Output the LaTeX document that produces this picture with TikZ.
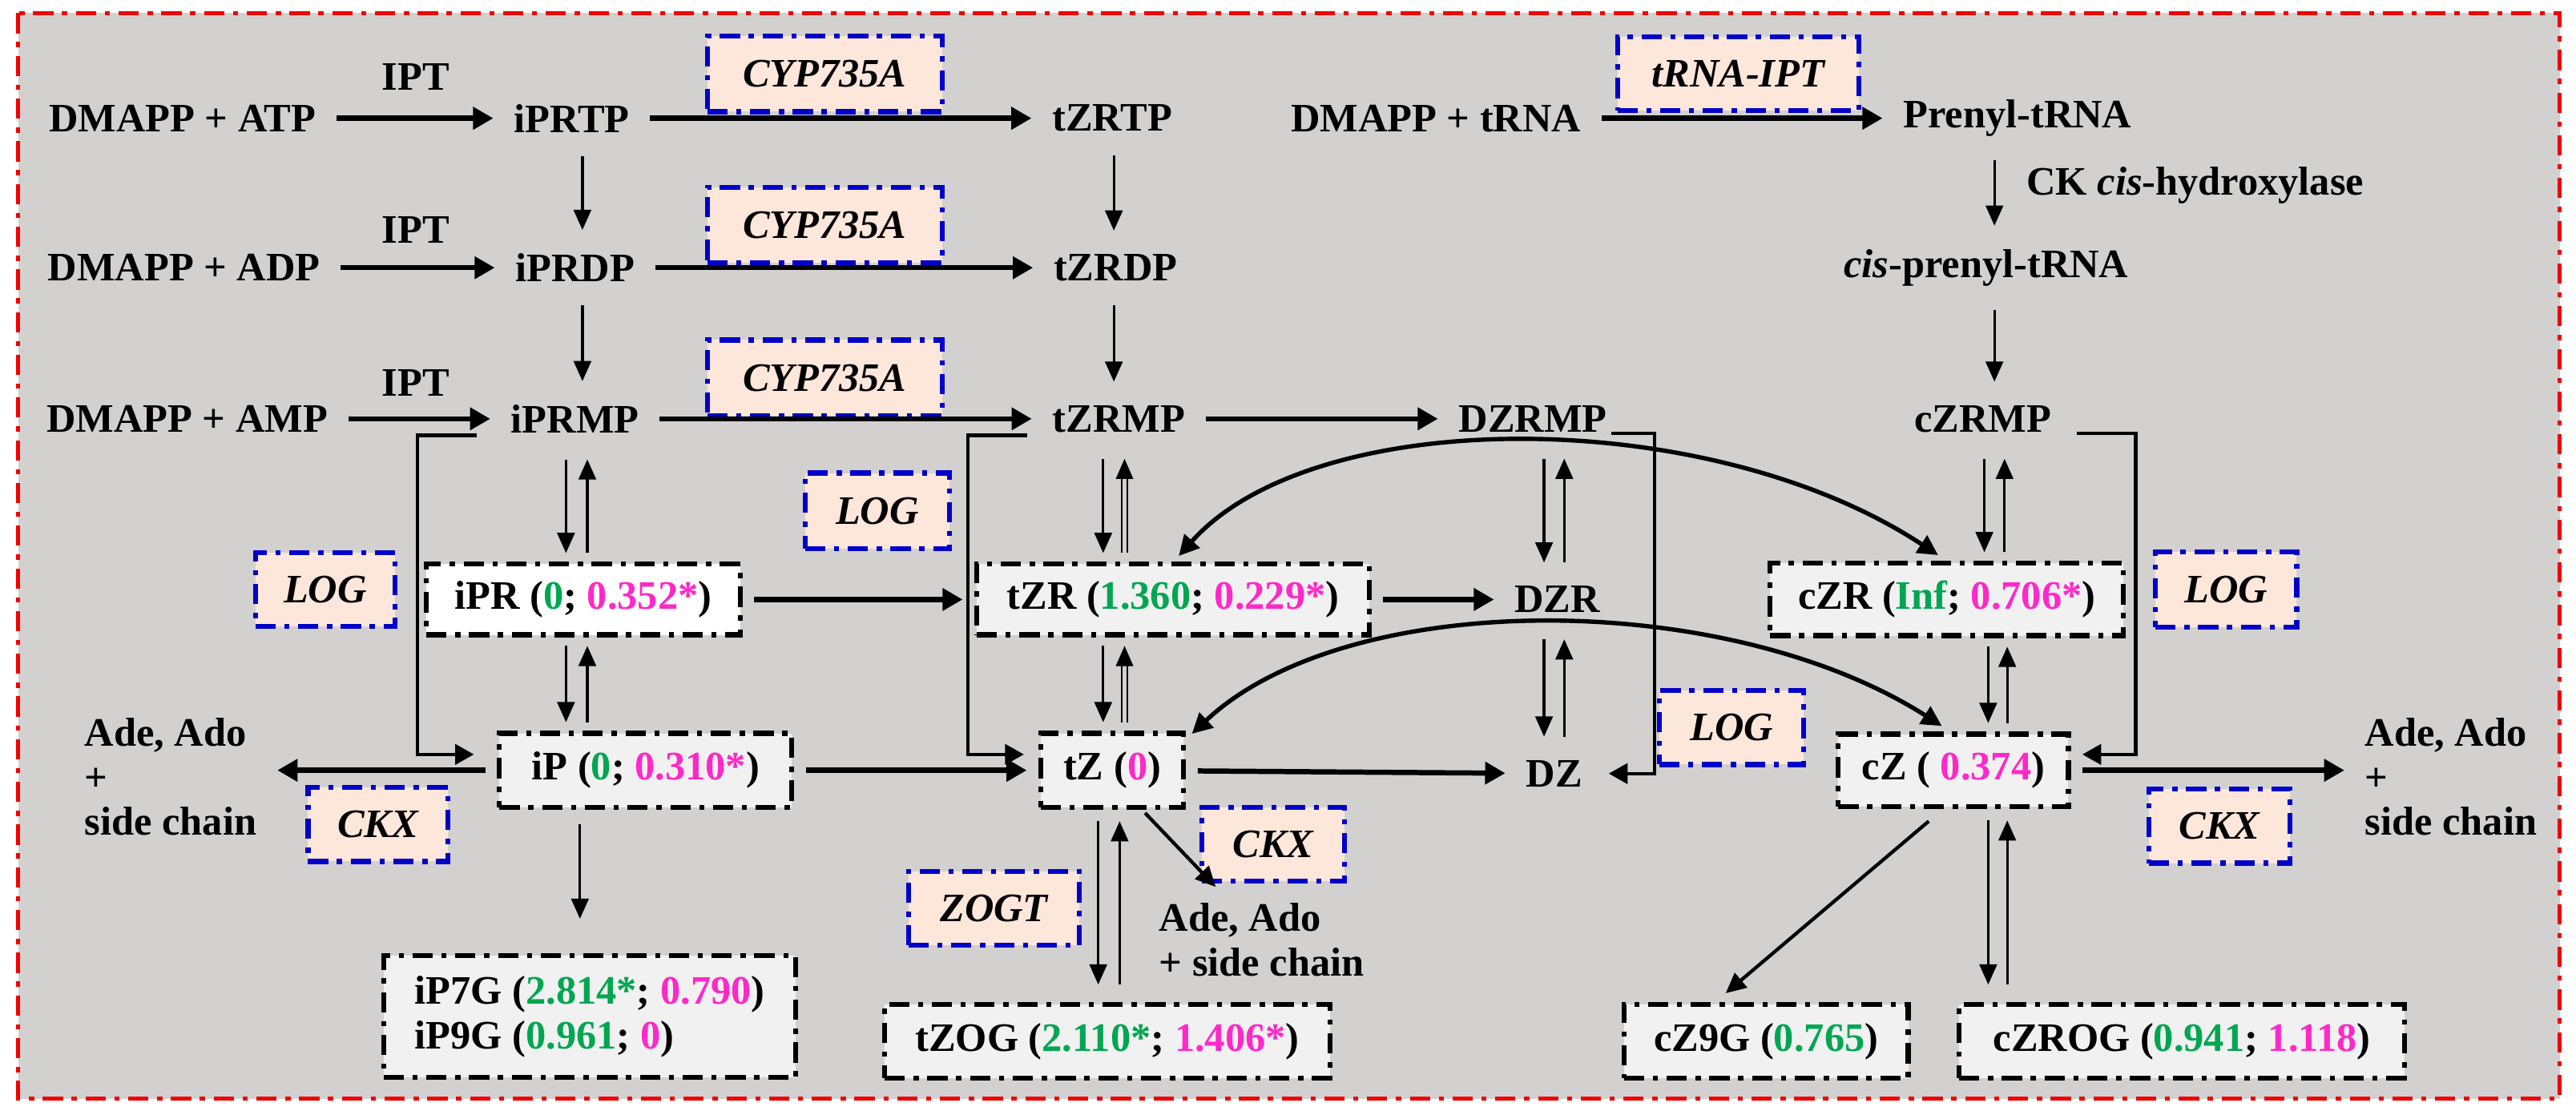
\documentclass[tikz,border=0pt]{standalone}
\usepackage{fontspec}
\setmainfont{Liberation Serif}
\newfontfamily\tnr{Liberation Serif}
\usetikzlibrary{arrows.meta,calc}
\definecolor{bg}{RGB}{211,208,208}
\definecolor{enzfill}{RGB}{253,231,218}
\definecolor{enzblue}{RGB}{0,0,200}
\definecolor{boxfill}{RGB}{241,241,241}
\definecolor{gr}{RGB}{0,166,81}
\definecolor{mg}{RGB}{255,40,200}
\definecolor{fr}{RGB}{240,0,0}
\newcommand\gv[1]{\textcolor{gr}{#1}}
\newcommand\mv[1]{\textcolor{mg}{#1}}
\begin{document}
\begin{tikzpicture}[x=0.02cm,y=-0.02cm,
  every node/.style={font=\tnr\fontsize{14}{15.5}\selectfont\bfseries},
  txt/.style={inner sep=3pt},
  enz/.style={draw=enzblue,fill=enzfill,line width=1.7pt,
     dash pattern=on 7pt off 3pt on 1.8pt off 3pt,
     font=\tnr\fontsize{14}{15.5}\selectfont\bfseries\itshape,inner sep=0pt},
  cbox/.style={draw=black,fill=boxfill,line width=1.7pt,
     dash pattern=on 7pt off 3pt on 1.8pt off 3pt,inner sep=0pt},
  thick arrow/.style={line width=1.8pt,-{Triangle[length=7pt,width=7.5pt]},shorten <=4pt,shorten >=4pt},
  thin arrow/.style={line width=0.9pt,-{Triangle[length=7pt,width=6pt]}},
  mid arrow/.style={line width=1.2pt,-{Triangle[length=7pt,width=6.5pt]}},
  dbl arrow/.style={double=bg,double distance=1.4pt,line width=0.5pt,-{Triangle[length=7pt,width=6pt]}},
  hook/.style={line width=1.2pt,-{Triangle[length=6.5pt,width=7pt]}},
]
\useasboundingbox (0,0) rectangle (1568,681);
\draw[fr,fill=bg,line width=1.4pt,dash pattern=on 7pt off 3pt on 1.8pt off 3pt] (11,8) rectangle (1558,669);

% enzyme boxes
\node[enz,minimum width=143*0.02cm,minimum height=46*0.02cm] (cyp1) at (502,45) {CYP735A};
\node[enz,minimum width=143*0.02cm,minimum height=46*0.02cm] (cyp2) at (502,137) {CYP735A};
\node[enz,minimum width=143*0.02cm,minimum height=46*0.02cm] (cyp3) at (502,230) {CYP735A};
\node[enz,minimum width=147*0.02cm,minimum height=45*0.02cm] (tipt) at (1058,45) {tRNA-IPT};
\node[enz,minimum width=88*0.02cm,minimum height=46*0.02cm] (log1) at (534,311) {LOG};
\node[enz,minimum width=85*0.02cm,minimum height=45*0.02cm] (log2) at (198,359) {LOG};
\node[enz,minimum width=86*0.02cm,minimum height=46*0.02cm] (log3) at (1355,359) {LOG};
\node[enz,minimum width=88*0.02cm,minimum height=45*0.02cm] (log4) at (1054,443) {LOG};
\node[enz,minimum width=85*0.02cm,minimum height=45*0.02cm] (ckx1) at (230,502) {CKX};
\node[enz,minimum width=87*0.02cm,minimum height=45*0.02cm] (ckx2) at (775,514) {CKX};
\node[enz,minimum width=86*0.02cm,minimum height=45*0.02cm] (ckx3) at (1351,503) {CKX};
\node[enz,minimum width=104*0.02cm,minimum height=45*0.02cm] (zogt) at (605,553) {ZOGT};

% top text nodes
\node[txt] (atp) at (111,72) {DMAPP + ATP};
\node[txt] (adp) at (112,163) {DMAPP + ADP};
\node[txt] (amp) at (114,255) {DMAPP + AMP};
\node[txt] (ipt1) at (253,47) {IPT};
\node[txt] (ipt2) at (253,140) {IPT};
\node[txt] (ipt3) at (253,233) {IPT};
\node[txt] (iprtp) at (348,72) {iPRTP};
\node[txt] (iprdp) at (350,163) {iPRDP};
\node[txt] (iprmp) at (350,255) {iPRMP};
\node[txt] (tzrtp) at (677,72) {tZRTP};
\node[txt] (tzrdp) at (679,163) {tZRDP};
\node[txt] (tzrmp) at (681,255) {tZRMP};
\node[txt] (dzrmp) at (933,255) {DZRMP};
\node[txt] (czrmp) at (1207,255) {cZRMP};
\node[txt] (dtrna) at (874,72) {DMAPP + tRNA};
\node[txt] (prenyl) at (1228,72) {Prenyl-tRNA};
\node[txt] (cisp) at (1209,163) {\textit{cis}-prenyl-tRNA};
\node[txt,anchor=west] (ckh) at (1228,113) {CK \textit{cis}-hydroxylase};

% compound boxes
\node[cbox,fill=white,minimum width=191*0.02cm,minimum height=43*0.02cm] (ipr) at (355,365) {iPR (\gv{0}; \mv{0.352*})};
\node[cbox,minimum width=239*0.02cm,minimum height=43*0.02cm] (tzr) at (714,365) {tZR (\gv{1.360}; \mv{0.229*})};
\node[cbox,minimum width=215*0.02cm,minimum height=44*0.02cm] (czr) at (1185,365) {cZR (\gv{Inf}; \mv{0.706*})};
\node[txt] (dzr) at (948,365) {DZR};
\node[cbox,minimum width=178*0.02cm,minimum height=45*0.02cm] (ip) at (393,469) {iP (\gv{0}; \mv{0.310*})};
\node[cbox,minimum width=87*0.02cm,minimum height=45*0.02cm] (tz) at (677,469) {tZ (\mv{0})};
\node[txt] (dz) at (946,471) {DZ};
\node[cbox,minimum width=140*0.02cm,minimum height=44*0.02cm] (cz) at (1189,469) {cZ ( \mv{0.374})};
\node[cbox,minimum width=251*0.02cm,minimum height=74*0.02cm,align=left] (ip7g) at (359,619) {iP7G (\gv{2.814*}; \mv{0.790})\\iP9G (\gv{0.961}; \mv{0})};
\node[cbox,minimum width=271*0.02cm,minimum height=45*0.02cm] (tzog) at (674,634) {tZOG (\gv{2.110*}; \mv{1.406*})};
\node[cbox,minimum width=173*0.02cm,minimum height=45*0.02cm] (cz9g) at (1075,634) {cZ9G (\gv{0.765})};
\node[cbox,minimum width=271*0.02cm,minimum height=45*0.02cm] (czrog) at (1328,634) {cZROG (\gv{0.941}; \mv{1.118})};

\node[txt,anchor=west,align=left] (adeL) at (46,473) {Ade, Ado\\+\\side chain};
\node[txt,anchor=west,align=left] (adeR) at (1434,473) {Ade, Ado\\+\\side chain};
\node[txt,anchor=west,align=left] (adeM) at (700,572) {Ade, Ado\\+ side chain};

% column coordinates
\coordinate (cA) at (351,0);
\coordinate (cB) at (678,0);
\coordinate (cC) at (946,0);
\coordinate (cD) at (1214,0);
\coordinate (cE) at (353,0);
\coordinate (cF) at (675,0);
\coordinate (cG) at (1216,0);

% thick horizontal arrows
\draw[thick arrow] (atp) -- (iprtp);
\draw[thick arrow] (adp) -- (iprdp);
\draw[thick arrow] (amp) -- (iprmp);
\draw[thick arrow] (iprtp) -- (tzrtp);
\draw[thick arrow] (iprdp) -- (tzrdp);
\draw[thick arrow] (iprmp) -- (tzrmp);
\draw[thick arrow] (tzrmp) -- (dzrmp);
\draw[thick arrow] (dtrna) -- (prenyl);
\draw[thick arrow] (ipr) -- (tzr);
\draw[thick arrow] (tzr) -- (dzr);
\draw[thick arrow] (ip) -- (tz);
\draw[thick arrow] (tz) -- (dz);
\draw[thick arrow] (ip.west) -- (ip.west -| adeL.east);
\draw[thick arrow] (cz.east) -- (cz.east -| adeR.west);

% single thin downward arrows
\draw[thin arrow,shorten <=5pt,shorten >=5pt] ([xshift=2pt]cA |- iprtp.south) -- ([xshift=2pt]cA |- iprdp.north);
\draw[thin arrow,shorten <=5pt,shorten >=5pt] ([xshift=2pt]cA |- iprdp.south) -- ([xshift=2pt]cA |- iprmp.north);
\draw[thin arrow,shorten <=5pt,shorten >=5pt] (cB |- tzrtp.south) -- (cB |- tzrdp.north);
\draw[thin arrow,shorten <=5pt,shorten >=5pt] (cB |- tzrdp.south) -- (cB |- tzrmp.north);
\draw[thin arrow,shorten <=5pt,shorten >=5pt] (cD |- prenyl.south) -- (cD |- cisp.north);
\draw[thin arrow,shorten <=5pt,shorten >=5pt] (cD |- cisp.south) -- (cD |- czrmp.north);

% reversible pairs
\draw[thin arrow,shorten <=6pt,shorten >=3pt] ([xshift=-3.7pt]cA |- iprmp.south) -- ([xshift=-3.7pt]cA |- ipr.north);
\draw[thin arrow,shorten <=3pt,shorten >=6pt] ([xshift=3.7pt]cA |- ipr.north) -- ([xshift=3.7pt]cA |- iprmp.south);
\draw[thin arrow,shorten <=3pt,shorten >=3pt] ([xshift=-3.7pt]cA |- ipr.south) -- ([xshift=-3.7pt]cA |- ip.north);
\draw[thin arrow,shorten <=3pt,shorten >=3pt] ([xshift=3.7pt]cA |- ip.north) -- ([xshift=3.7pt]cA |- ipr.south);
\draw[thin arrow,shorten <=6pt,shorten >=3pt] ([xshift=-3.7pt]cB |- tzrmp.south) -- ([xshift=-3.7pt]cB |- tzr.north);
\draw[dbl arrow,shorten <=3pt,shorten >=6pt] ([xshift=3.7pt]cB |- tzr.north) -- ([xshift=3.7pt]cB |- tzrmp.south);
\draw[thin arrow,shorten <=3pt,shorten >=3pt] ([xshift=-3.7pt]cB |- tzr.south) -- ([xshift=-3.7pt]cB |- tz.north);
\draw[dbl arrow,shorten <=3pt,shorten >=3pt] ([xshift=3.7pt]cB |- tz.north) -- ([xshift=3.7pt]cB |- tzr.south);
\draw[thin arrow,shorten <=6pt,shorten >=5pt] ([xshift=-3.5pt]cC |- dzrmp.south) -- ([xshift=-3.5pt]cC |- dzr.north);
\draw[thin arrow,shorten <=5pt,shorten >=6pt] ([xshift=3.5pt]cC |- dzr.north) -- ([xshift=3.5pt]cC |- dzrmp.south);
\draw[thin arrow,shorten <=6pt,shorten >=5pt] ([xshift=-3.5pt]cC |- dzr.south) -- ([xshift=-3.5pt]cC |- dz.north);
\draw[thin arrow,shorten <=5pt,shorten >=6pt] ([xshift=3.5pt]cC |- dz.north) -- ([xshift=3.5pt]cC |- dzr.south);
\draw[thin arrow,shorten <=6pt,shorten >=3pt] ([xshift=-3.5pt]cD |- czrmp.south) -- ([xshift=-3.5pt]cD |- czr.north);
\draw[thin arrow,shorten <=3pt,shorten >=6pt] ([xshift=3.5pt]cD |- czr.north) -- ([xshift=3.5pt]cD |- czrmp.south);
\draw[thin arrow,shorten <=3pt,shorten >=3pt] ([xshift=-3.3pt]cG |- czr.south) -- ([xshift=-3.3pt]cG |- cz.north);
\draw[thin arrow,shorten <=3pt,shorten >=3pt] ([xshift=3.3pt]cG |- cz.north) -- ([xshift=3.3pt]cG |- czr.south);
\draw[thin arrow,shorten <=4pt,shorten >=6pt] ([xshift=-3.7pt]cF |- tz.south) -- ([xshift=-3.7pt]cF |- tzog.north);
\draw[thin arrow,shorten <=6pt,shorten >=4pt] ([xshift=3.7pt]cF |- tzog.north) -- ([xshift=3.7pt]cF |- tz.south);
\draw[thin arrow,shorten <=4pt,shorten >=6pt] ([xshift=-3.3pt]cG |- cz.south) -- ([xshift=-3.3pt]cG |- czrog.north);
\draw[thin arrow,shorten <=6pt,shorten >=4pt] ([xshift=3.3pt]cG |- czrog.north) -- ([xshift=3.3pt]cG |- cz.south);
\draw[thin arrow,shorten <=5pt,shorten >=12pt] (cE |- ip.south) -- (cE |- ip7g.north);

% diagonal arrows
\coordinate (tzd) at (697,495);
\coordinate (tzd2) at (740,540);
\draw[mid arrow] (tzd) -- (tzd2);
\coordinate (czd) at (1174,500);
\draw[mid arrow] (czd) -- ([xshift=-14pt,yshift=3pt]cz9g.north);

% hooks
\coordinate (h1) at (290,265);
\draw[hook] (h1) -- ++(-36,0) |- ([xshift=-8pt,yshift=5.5pt]ip.west);
\coordinate (h2) at (625,265);
\draw[hook] (h2) -- ++(-36,0) |- ([xshift=-5pt,yshift=5.5pt]tz.west);
\coordinate (h3) at (981,264);
\draw[hook] (h3) -- ++(26,0) |- ([xshift=6pt]dz.east);
\coordinate (h4) at (1264,264);
\draw[hook] (h4) -- ++(36,0) |- ([xshift=4pt,yshift=5.5pt]cz.east);

% curved reversible arrows
\draw[line width=1.5pt,{Triangle[length=7pt,width=7pt]}-{Triangle[length=7pt,width=7pt]}]
  ([xshift=2pt,yshift=2pt]tzr.north) .. controls (800,246) and (1040,246) .. ([xshift=-3pt,yshift=2pt]czr.north);
\draw[line width=1.5pt,{Triangle[length=7pt,width=7pt]}-{Triangle[length=7pt,width=7pt]}]
  ([xshift=2pt,yshift=-1pt]tz.north east) .. controls (820,358) and (1050,358) .. ([xshift=-4pt,yshift=2pt]cz.north);
\end{tikzpicture}
\end{document}
